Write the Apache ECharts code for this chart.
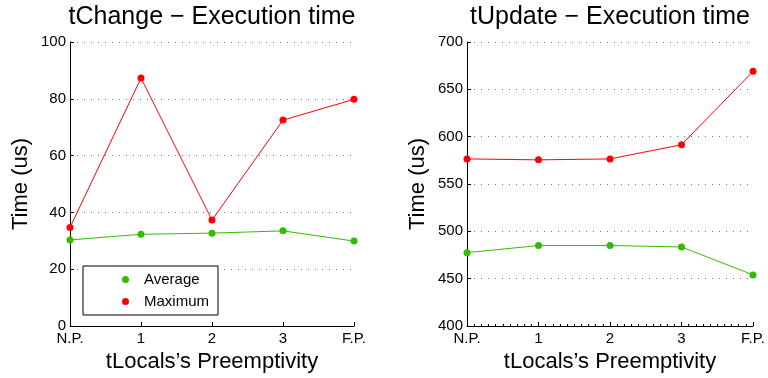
<!DOCTYPE html>
<html>
<head>
<meta charset="utf-8">
<script src="https://cdn.jsdelivr.net/npm/echarts@6/dist/echarts.min.js"></script>
<style>
  html, body { margin: 0; padding: 0; background: #fff; }
  #chart { width: 768px; height: 378px; }
</style>
</head>
<body>
<div id="chart"></div>
<script>
// Preemptivity levels on the horizontal axis
const categories = ['N.P.', '1', '2', '3', 'F.P.'];

// tChange execution time (us)
const changeAverage = [30.3, 32.3, 32.7, 33.5, 29.9];
const changeMaximum = [34.7, 87.3, 37.3, 72.5, 79.8];

// tUpdate execution time (us)
const updateAverage = [477.5, 485, 485, 483.5, 454];
const updateMaximum = [576.5, 575.5, 576.5, 591.5, 669];

const FONT = 'Liberation Sans, Arial, Helvetica, sans-serif';
const GREEN = '#33bb00';
const RED = '#ff0000';

const toPoints = values => values.map((v, i) => [i, v]);

function xAxis(gridIndex, minor) {
  return {
    type: 'value', gridIndex: gridIndex, min: 0, max: categories.length - 1, interval: 1,
    name: 'tLocals\u2019s Preemptivity', nameLocation: 'middle', nameGap: 25,
    nameTextStyle: { fontSize: 22, fontFamily: FONT, color: '#000' },
    axisLine: { show: true, onZero: false, lineStyle: { color: '#000', width: 1 } },
    axisTick: { show: true, inside: true, length: 4, lineStyle: { color: '#000' } },
    minorTick: { show: minor, splitNumber: 10, length: 2, lineStyle: { color: '#000' } },
    axisLabel: { margin: 5, fontSize: 15, fontFamily: FONT, color: '#000',
      formatter: v => categories[v] },
    splitLine: { show: false }
  };
}

function yAxis(gridIndex, min, max, interval) {
  return {
    type: 'value', gridIndex: gridIndex, min: min, max: max, interval: interval,
    name: 'Time (us)', nameLocation: 'middle', nameGap: 38, nameRotate: 90,
    nameTextStyle: { fontSize: 22, fontFamily: FONT, color: '#000' },
    axisLine: { show: true, lineStyle: { color: '#000', width: 1 } },
    axisTick: { show: true, inside: true, length: 4, lineStyle: { color: '#000' } },
    axisLabel: { margin: 4, fontSize: 15, fontFamily: FONT, color: '#000' },
    splitLine: { show: true, lineStyle: { color: '#777', width: 1, type: [1, 6] } }
  };
}

function lineSeries(name, color, xi, values) {
  return {
    name: name, type: 'line', xAxisIndex: xi, yAxisIndex: xi,
    data: toPoints(values),
    symbol: 'circle', symbolSize: 7, showSymbol: true,
    itemStyle: { color: color },
    lineStyle: { color: color, width: 1 },
    z: name === 'Maximum' ? 3 : 2
  };
}

const chart = echarts.init(document.getElementById('chart'), null, { renderer: 'canvas' });
chart.setOption({
  animation: false,
  backgroundColor: '#fff',
  title: [
    { text: 'tChange \u2212 Execution time', left: 212, top: 5, padding: 0, textAlign: 'center',
      textStyle: { fontSize: 25, fontWeight: 'normal', fontFamily: FONT, color: '#000' } },
    { text: 'tUpdate \u2212 Execution time', left: 610, top: 5, padding: 0, textAlign: 'center',
      textStyle: { fontSize: 25, fontWeight: 'normal', fontFamily: FONT, color: '#000' } }
  ],
  legend: {
    data: ['Average', 'Maximum'],
    orient: 'vertical', left: 83, top: 266,
    icon: 'circle', itemWidth: 7, itemHeight: 7, itemGap: 7,
    padding: [6, 9, 6, 39],
    borderColor: '#000', borderWidth: 1, borderRadius: 0,
    backgroundColor: '#fff',
    textStyle: { fontSize: 15, fontFamily: FONT, color: '#000', padding: [0, 0, 0, 10] },
    z: 10
  },
  grid: [
    { left: 70, right: 414, top: 42, bottom: 50 },
    { left: 467, right: 13, top: 42, bottom: 49 }
  ],
  xAxis: [xAxis(0, false), xAxis(1, true)],
  yAxis: [yAxis(0, 0, 100, 20), yAxis(1, 400, 700, 50)],
  series: [
    lineSeries('Average', GREEN, 0, changeAverage),
    lineSeries('Maximum', RED, 0, changeMaximum),
    lineSeries('Average', GREEN, 1, updateAverage),
    lineSeries('Maximum', RED, 1, updateMaximum)
  ]
});
</script>
</body>
</html>
